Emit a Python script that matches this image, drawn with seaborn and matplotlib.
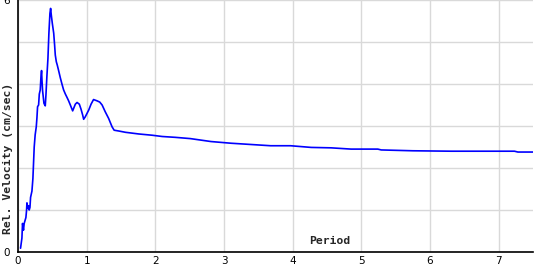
import matplotlib
matplotlib.use("Agg")
import matplotlib.pyplot as plt
import seaborn as sns
import pandas as pd

period = [0.037, 0.057, 0.066, 0.08, 0.09, 0.115, 0.125, 0.13, 0.144, 0.153, 0.163,
          0.174, 0.183, 0.203, 0.217, 0.236, 0.25, 0.266, 0.276, 0.285, 0.30, 0.31,
          0.324, 0.334, 0.343, 0.349, 0.358, 0.378, 0.397, 0.407, 0.42, 0.436, 0.45,
          0.465, 0.475, 0.485, 0.50, 0.52, 0.533, 0.543, 0.558, 0.572, 0.59, 0.616,
          0.64, 0.664, 0.69, 0.714, 0.737, 0.762, 0.796, 0.835, 0.86, 0.893, 0.918,
          0.942, 0.956, 0.98, 1.03, 1.064, 1.10, 1.15, 1.19, 1.225, 1.27, 1.32, 1.37,
          1.40, 1.47, 1.565, 1.76, 1.955, 2.10, 2.29, 2.51, 2.81, 3.10, 3.39, 3.68,
          3.97, 4.27, 4.56, 4.85, 5.24, 5.29, 5.75, 6.31, 7.23, 7.28, 7.5]
velocity = [0.09, 0.33, 0.68, 0.52, 0.68, 0.82, 1.0, 1.17, 1.04, 1.10, 1.0,
            1.06, 1.30, 1.45, 1.75, 2.50, 2.79, 2.98, 3.2, 3.46, 3.5, 3.76,
            3.86, 4.16, 4.32, 4.1, 3.84, 3.54, 3.48, 3.74, 4.16, 4.61, 5.21,
            5.68, 5.80, 5.64, 5.44, 5.21, 4.93, 4.69, 4.53, 4.45, 4.33, 4.15,
            4.0, 3.86, 3.76, 3.68, 3.6, 3.5, 3.36, 3.52, 3.56, 3.52, 3.40,
            3.26, 3.16, 3.22, 3.38, 3.52, 3.63, 3.60, 3.57, 3.50, 3.34, 3.18, 2.98,
            2.90, 2.88, 2.85, 2.81, 2.78, 2.75, 2.73, 2.70, 2.63, 2.59, 2.56, 2.53,
            2.53, 2.49, 2.48, 2.45, 2.45, 2.43, 2.41, 2.40, 2.40, 2.38, 2.38]

x_ticks = [0, 1, 2, 3, 4, 5, 6, 7]
y_ticks = [0, 1, 2, 3, 4, 5, 6]
y_tick_labels = ["0", "", "", "", "", "", "6"]

sns.set_style("white")
plt.rcParams["font.family"] = ["DejaVu Sans"]

df = pd.DataFrame({"Period": period, "Velocity": velocity})

fig = plt.figure(figsize=(5.4, 2.7), dpi=100)
ax = fig.add_axes([18 / 540, 18 / 270, 515 / 540, 252 / 270])

sns.lineplot(data=df, x="Period", y="Velocity", estimator=None, sort=False,
             color="#0000ff", linewidth=1.2, ax=ax, zorder=3)

ax.set_xlim(0, 7.5)
ax.set_ylim(0, 6)
ax.set_xticks(x_ticks)
ax.set_xticklabels([str(t) for t in x_ticks])
ax.set_yticks(y_ticks)
ax.set_yticklabels(y_tick_labels)
ax.grid(True, color="#d9d9d9", linewidth=1.0, zorder=0)
ax.set_axisbelow(True)
for side in ["top", "right"]:
    ax.spines[side].set_visible(False)
for side in ["left", "bottom"]:
    ax.spines[side].set_color("black")
    ax.spines[side].set_linewidth(1.2)
ax.tick_params(axis="both", direction="in", length=3.5, width=1, color="black",
               labelsize=7.5, labelcolor="black")
ax.tick_params(axis="x", pad=3)
ax.tick_params(axis="y", pad=6)
ax.set_xlabel("")
ax.set_ylabel("")

fig.text(330 / 540, 1 - 241.5 / 270, "Period", ha="center", va="center",
         family="DejaVu Sans Mono", fontweight="bold", fontsize=8.2)
fig.text(8 / 540, 1 - 158 / 270, "Rel. Velocity (cm/sec)", ha="center", va="center",
         rotation=90, family="DejaVu Sans Mono", fontweight="bold", fontsize=8.2)

fig.savefig("out.png", dpi=100)
